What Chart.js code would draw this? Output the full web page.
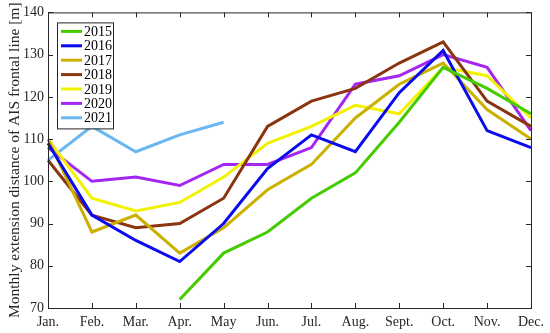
<!DOCTYPE html>
<html>
<head>
<meta charset="utf-8">
<script src="https://cdn.jsdelivr.net/npm/chart.js@4/dist/chart.umd.min.js"></script>
<style>
  html, body { margin: 0; padding: 0; background: #fff; }
  #wrap { width: 550px; height: 333px; position: relative; }
</style>
</head>
<body>
<div id="wrap"><canvas id="chart"></canvas></div>
<script>
// months along the x axis
const months = ['Jan.', 'Feb.', 'Mar.', 'Apr.', 'May', 'Jun.', 'Jul.', 'Aug.', 'Sept.', 'Oct.', 'Nov.', 'Dec.'];

// monthly extension distance [m], one array per year (null = no data)
const y2015 = [null, null, null, 72, 83, 88, 96, 102, 114, 127, 122, 116];
const y2016 = [109, 92, 86, 81, 90, 103, 111, 107, 121, 131, 112, 108];
const y2017 = [110, 88, 92, 83, 89, 98, 104, 115, 123, 128, 117, 110];
const y2018 = [105, 92, 89, 90, 96, 113, 119, 122, 128, 133, 119, 113];
const y2019 = [110, 96, 93, 95, 101, 109, 113, 118, 116, 127, 125, 115];
const y2020 = [108, 100, 101, 99, 104, 104, 108, 123, 125, 130, 127, 112];
const y2021 = [105, 113, 107, 111, 114, null, null, null, null, null, null, null];

const yTicks = [70, 80, 90, 100, 110, 120, 130, 140];

const serif = '"Liberation Serif", "Times New Roman", serif';

function line(label, data, color) {
  return {
    label: label,
    data: data,
    borderColor: color,
    backgroundColor: color,
    borderWidth: 3,
    pointRadius: 0,
    tension: 0,
    spanGaps: false
  };
}

// MATLAB-style box with inward ticks and a boxed legend inside the plot
const frame = {
  id: 'frame',
  afterDraw(chart) {
    const ctx = chart.ctx;
    const a = chart.chartArea;
    const x = chart.scales.x;
    const y = chart.scales.y;
    ctx.save();
    ctx.strokeStyle = '#262626';
    ctx.lineWidth = 1;
    ctx.strokeRect(a.left + 0.5, a.top + 0.5, a.right - a.left, a.bottom - a.top);
    ctx.beginPath();
    months.forEach((m, i) => {
      const px = Math.round(x.getPixelForValue(i)) + 0.5;
      ctx.moveTo(px, a.bottom); ctx.lineTo(px, a.bottom - 5);
      ctx.moveTo(px, a.top); ctx.lineTo(px, a.top + 5);
    });
    yTicks.forEach(v => {
      const py = Math.round(y.getPixelForValue(v)) + 0.5;
      ctx.moveTo(a.left, py); ctx.lineTo(a.left + 5, py);
      ctx.moveTo(a.right, py); ctx.lineTo(a.right - 5, py);
    });
    ctx.stroke();

    // legend
    const lx = a.left + 9, ly = a.top + 10, lw = 56, lh = 106;
    ctx.fillStyle = '#fff';
    ctx.fillRect(lx, ly, lw, lh);
    ctx.strokeStyle = '#262626';
    ctx.strokeRect(lx + 0.5, ly + 0.5, lw, lh);
    ctx.font = '14px ' + serif;
    ctx.textBaseline = 'middle';
    chart.data.datasets.forEach((ds, i) => {
      const ry = ly + 9 + i * 14.4;
      ctx.strokeStyle = ds.borderColor;
      ctx.lineWidth = 3;
      ctx.beginPath();
      ctx.moveTo(lx + 4, ry); ctx.lineTo(lx + 25, ry);
      ctx.stroke();
      ctx.fillStyle = '#000';
      ctx.fillText(ds.label, lx + 27, ry + 1);
    });
    ctx.restore();
  }
};

new Chart(document.getElementById('chart'), {
  type: 'line',
  data: {
    labels: months,
    datasets: [
      line('2015', y2015, '#44cc00'),
      line('2016', y2016, '#0a0af0'),
      line('2017', y2017, '#ccb000'),
      line('2018', y2018, '#8a3510'),
      line('2019', y2019, '#f2f200'),
      line('2020', y2020, '#a526f0'),
      line('2021', y2021, '#6ab8f0')
    ]
  },
  options: {
    responsive: true,
    maintainAspectRatio: false,
    animation: false,
    layout: { padding: { left: 0, right: 17, top: 10, bottom: 0 } },
    plugins: {
      legend: { display: false },
      tooltip: { enabled: false }
    },
    scales: {
      x: {
        offset: false,
        grid: { display: false, drawTicks: false },
        border: { display: false },
        afterFit: function (scale) { scale.height = 25; },
        ticks: {
          color: '#262626',
          font: { family: serif, size: 14 },
          padding: 6,
          maxRotation: 0,
          autoSkip: false
        }
      },
      y: {
        min: 70,
        max: 140,
        grid: { display: false, drawTicks: false },
        border: { display: false },
        afterFit: function (scale) { scale.width = 48; },
        ticks: {
          stepSize: 10,
          color: '#262626',
          font: { family: serif, size: 14 },
          padding: 4
        },
        title: {
          display: true,
          text: 'Monthly extension distance of AIS frontal line [m]',
          color: '#262626',
          font: { family: serif, size: 15.5 },
          padding: { top: 6, bottom: 0 }
        }
      }
    }
  },
  plugins: [frame]
});
</script>
</body>
</html>
